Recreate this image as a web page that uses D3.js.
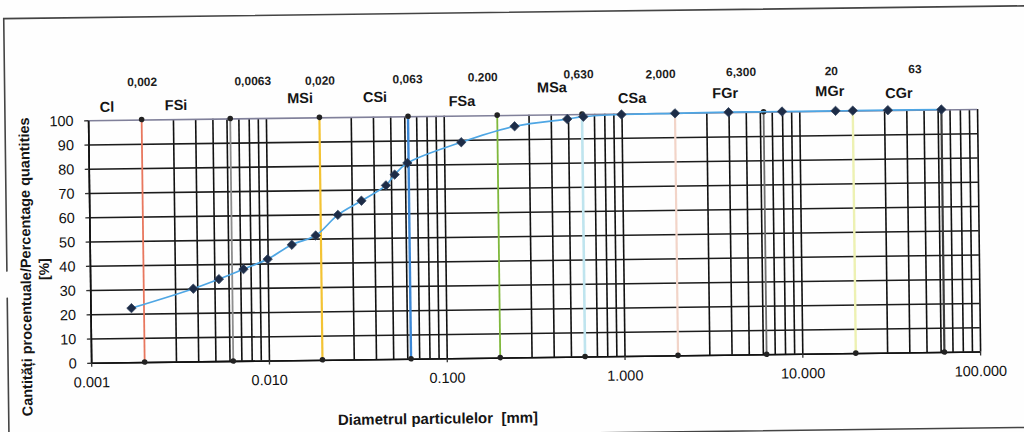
<!DOCTYPE html>
<html><head><meta charset="utf-8">
<script src="https://cdn.jsdelivr.net/npm/d3@7"></script>
<style>
html,body{margin:0;padding:0;background:#fff;}
svg{display:block;}
text{font-family:"Liberation Sans", Arial, sans-serif;}
</style></head><body>
<svg id="chart" width="1024" height="432"></svg>
<script>
// ---- data ----
const diameters = [0.0017, 0.0038, 0.0053, 0.0073, 0.0100, 0.0137, 0.0187, 0.0250, 0.0340, 0.0468, 0.0525, 0.0620, 0.125, 0.250, 0.495, 0.610, 1.00, 2.00, 4.00, 8.00, 16.0, 20.0, 31.5, 63.0];
const passing   = [22.3, 30.0, 33.8, 37.8, 41.8, 47.6, 51.3, 59.7, 65.4, 71.6, 76.0, 80.7, 89.0, 95.3, 98.0, 98.9, 99.6, 99.8, 100, 100, 100, 100, 100, 100];
const classBounds = [0.002, 0.0063, 0.020, 0.063, 0.200, 0.600, 2.0, 6.3, 20, 63];
const boundLabels = ["0,002", "0,0063", "0,020", "0,063", "0.200", "0,630", "2,000", "6,300", "20", "63"];
const classNames = ["Cl", "FSi", "MSi", "CSi", "FSa", "MSa", "CSa", "FGr", "MGr", "CGr"];
const classNameAt = [0.00128, 0.00313, 0.0156, 0.0412, 0.127, 0.408, 1.15, 3.84, 14.9, 36.5];
const xTickValues = [0.001, 0.01, 0.1, 1, 10, 100];
const xTickLabels = ["0.001", "0.010", "0.100", "1.000", "10.000", "100.000"];
const yTickValues = [0, 10, 20, 30, 40, 50, 60, 70, 80, 90, 100];
const xTitle = "Diametrul particulelor  [mm]";
const yTitle = "Cantități procentuale/Percentage quantities";
const yUnit = "[%]";

// ---- layout / style ----
const L = 89.6, R = 978.6, T = 114.65, B = 357.15;
const CX = 534.1, CY = 235.9, ANGLE = -0.72;
const boundColors = ["#e8775e", "#8e8e8e", "#f3c334", "#3b87d6", "#7fb83c", "#bfe4ee", "#f2d4c8", "#6e6e6e", "#edf1b3", "#3c3c3c"];
const boundWidths = [1.8, 1.8, 2.2, 2.4, 1.8, 2.6, 2.2, 1.8, 2.4, 2.2];
const boundLabelDx = [1, 23, 1, 0, -14, -3, -14, -22, -21, -26];
const boundLabelY = [77, 77.5, 78, 77.5, 76.5, 74.8, 75.6, 74.6, 74.8, 73.8];
const classNameY = [101.4, 100.5, 95.1, 95, 100.1, 87.5, 99.2, 95.4, 94.7, 97.6];

const svg = d3.select("#chart");
svg.append("rect").attr("width", 1024).attr("height", 432).attr("fill", "#fefefe");
const g = svg.append("g").attr("transform", `rotate(${ANGLE},${CX},${CY})`);

const x = d3.scaleLog().domain([0.001, 100]).range([L, R]);
const y = d3.scaleLinear().domain([0, 100]).range([B, T]);

// outer frame
const frame = g.append("g").attr("stroke", "#444").attr("stroke-width", 1.6).attr("fill", "none");
frame.append("path").attr("d", `M6.5,265 L6.5,12 L1040,12 M6.5,291 L6.5,433.6 L1040,433.6`);

// minor vertical grid
const minor = [];
for (let n = -3; n <= 1; n++) for (let k = 1; k <= 9; k++) minor.push(k * Math.pow(10, n));
minor.push(100);
const gridX = minor.filter(v => !classBounds.some(b => Math.abs(b - v) / v < 1e-6));
const gx = g.append("g").attr("transform", `translate(0,${B})`)
  .call(d3.axisBottom(x).tickValues(gridX).tickSize(-(B - T)).tickFormat("").tickSizeOuter(0));
gx.select(".domain").remove();
gx.selectAll("line").attr("stroke", "#111").attr("stroke-width", 1.6);

// horizontal grid
const gy = g.append("g").attr("transform", `translate(${L},0)`)
  .call(d3.axisLeft(y).tickValues(yTickValues).tickSize(-(R - L)).tickFormat("").tickSizeOuter(0));
gy.select(".domain").remove();
gy.selectAll(".tick line").attr("stroke", d => d === 100 ? "#80809a" : "#1c1c1c").attr("stroke-width", 1.6);

// y axis with labels
const ya = g.append("g").attr("transform", `translate(${L},0)`)
  .call(d3.axisLeft(y).tickValues(yTickValues).tickSize(4).tickSizeOuter(0));
ya.select(".domain").attr("stroke", "#111").attr("stroke-width", 1.6);
ya.selectAll(".tick line").attr("stroke", "#333").attr("stroke-width", 1.3);
ya.selectAll("text").attr("x", -14.5).attr("dy", "0.35em")
  .style("font-size", "14.5px").attr("fill", "#111").attr("font-family", null);

// x axis with labels
const xa = g.append("g").attr("transform", `translate(0,${B})`)
  .call(d3.axisBottom(x).tickValues(xTickValues).tickSize(4).tickSizeOuter(0)
    .tickFormat((d, i) => xTickLabels[i]));
xa.select(".domain").attr("stroke", "#111").attr("stroke-width", 1.6);
xa.selectAll(".tick line").attr("stroke", "#333").attr("stroke-width", 1.3);
xa.selectAll("text").attr("y", 19.5).attr("dy", "0.35em")
  .style("font-size", "14.5px").attr("fill", "#111").attr("font-family", null);

// class boundary lines
const cb = g.append("g");
cb.selectAll("line").data(classBounds).join("line")
  .attr("x1", d => x(d)).attr("x2", d => x(d))
  .attr("y1", y(0)).attr("y2", y(100))
  .attr("stroke", (d, i) => boundColors[i])
  .attr("stroke-width", (d, i) => boundWidths[i]);
const ends = classBounds.flatMap(d => [[d, 0], [d, 100]]);
cb.selectAll("circle").data(ends).join("circle")
  .attr("cx", d => x(d[0])).attr("cy", d => y(d[1])).attr("r", 2.8)
  .attr("fill", "#222");

// boundary value labels
g.append("g").selectAll("text").data(boundLabels).join("text")
  .attr("x", (d, i) => x(classBounds[i]) + boundLabelDx[i])
  .attr("y", (d, i) => boundLabelY[i]).attr("dy", "0.35em")
  .attr("text-anchor", "middle").style("font-size", "12px").style("font-weight", "bold")
  .attr("fill", "#1e1e1e").text(d => d);

// class names
g.append("g").selectAll("text").data(classNames).join("text")
  .attr("x", (d, i) => x(classNameAt[i]))
  .attr("y", (d, i) => classNameY[i]).attr("dy", "0.35em")
  .attr("text-anchor", "middle").style("font-size", "14.5px").style("font-weight", "bold")
  .attr("fill", "#151515").text(d => d);

// grading curve
const pts = diameters.map((d, i) => [d, passing[i]]);
g.append("path").datum(pts)
  .attr("d", d3.line().x(d => x(d[0])).y(d => y(d[1])).curve(d3.curveCatmullRom.alpha(0.5)))
  .attr("fill", "none").attr("stroke", "#4ea6e4").attr("stroke-width", 1.7);
const r = 4.7;
g.append("g").selectAll("path").data(pts).join("path")
  .attr("transform", d => `translate(${x(d[0])},${y(d[1])})`)
  .attr("d", `M0,${-r}L${r},0L0,${r}L${-r},0Z`)
  .attr("fill", "#1d2c47").attr("stroke", "#34445f").attr("stroke-width", 0.8);

// titles
g.append("text").attr("x", 435.7).attr("y", 417.3).attr("dy", "0.35em")
  .attr("text-anchor", "middle").style("font-size", "15px").style("font-weight", "bold")
  .style("white-space", "pre").attr("fill", "#151515").text(xTitle);
g.append("text").attr("transform", "translate(25.3,260.5) rotate(-90)").attr("dy", "0.35em")
  .attr("text-anchor", "middle").style("font-size", "14.5px").style("font-weight", "bold")
  .attr("fill", "#151515").text(yTitle);
g.append("text").attr("transform", "translate(43.6,263) rotate(-90)").attr("dy", "0.35em")
  .attr("text-anchor", "middle").style("font-size", "14px").style("font-weight", "bold")
  .attr("fill", "#151515").text(yUnit);
</script>
</body></html>
